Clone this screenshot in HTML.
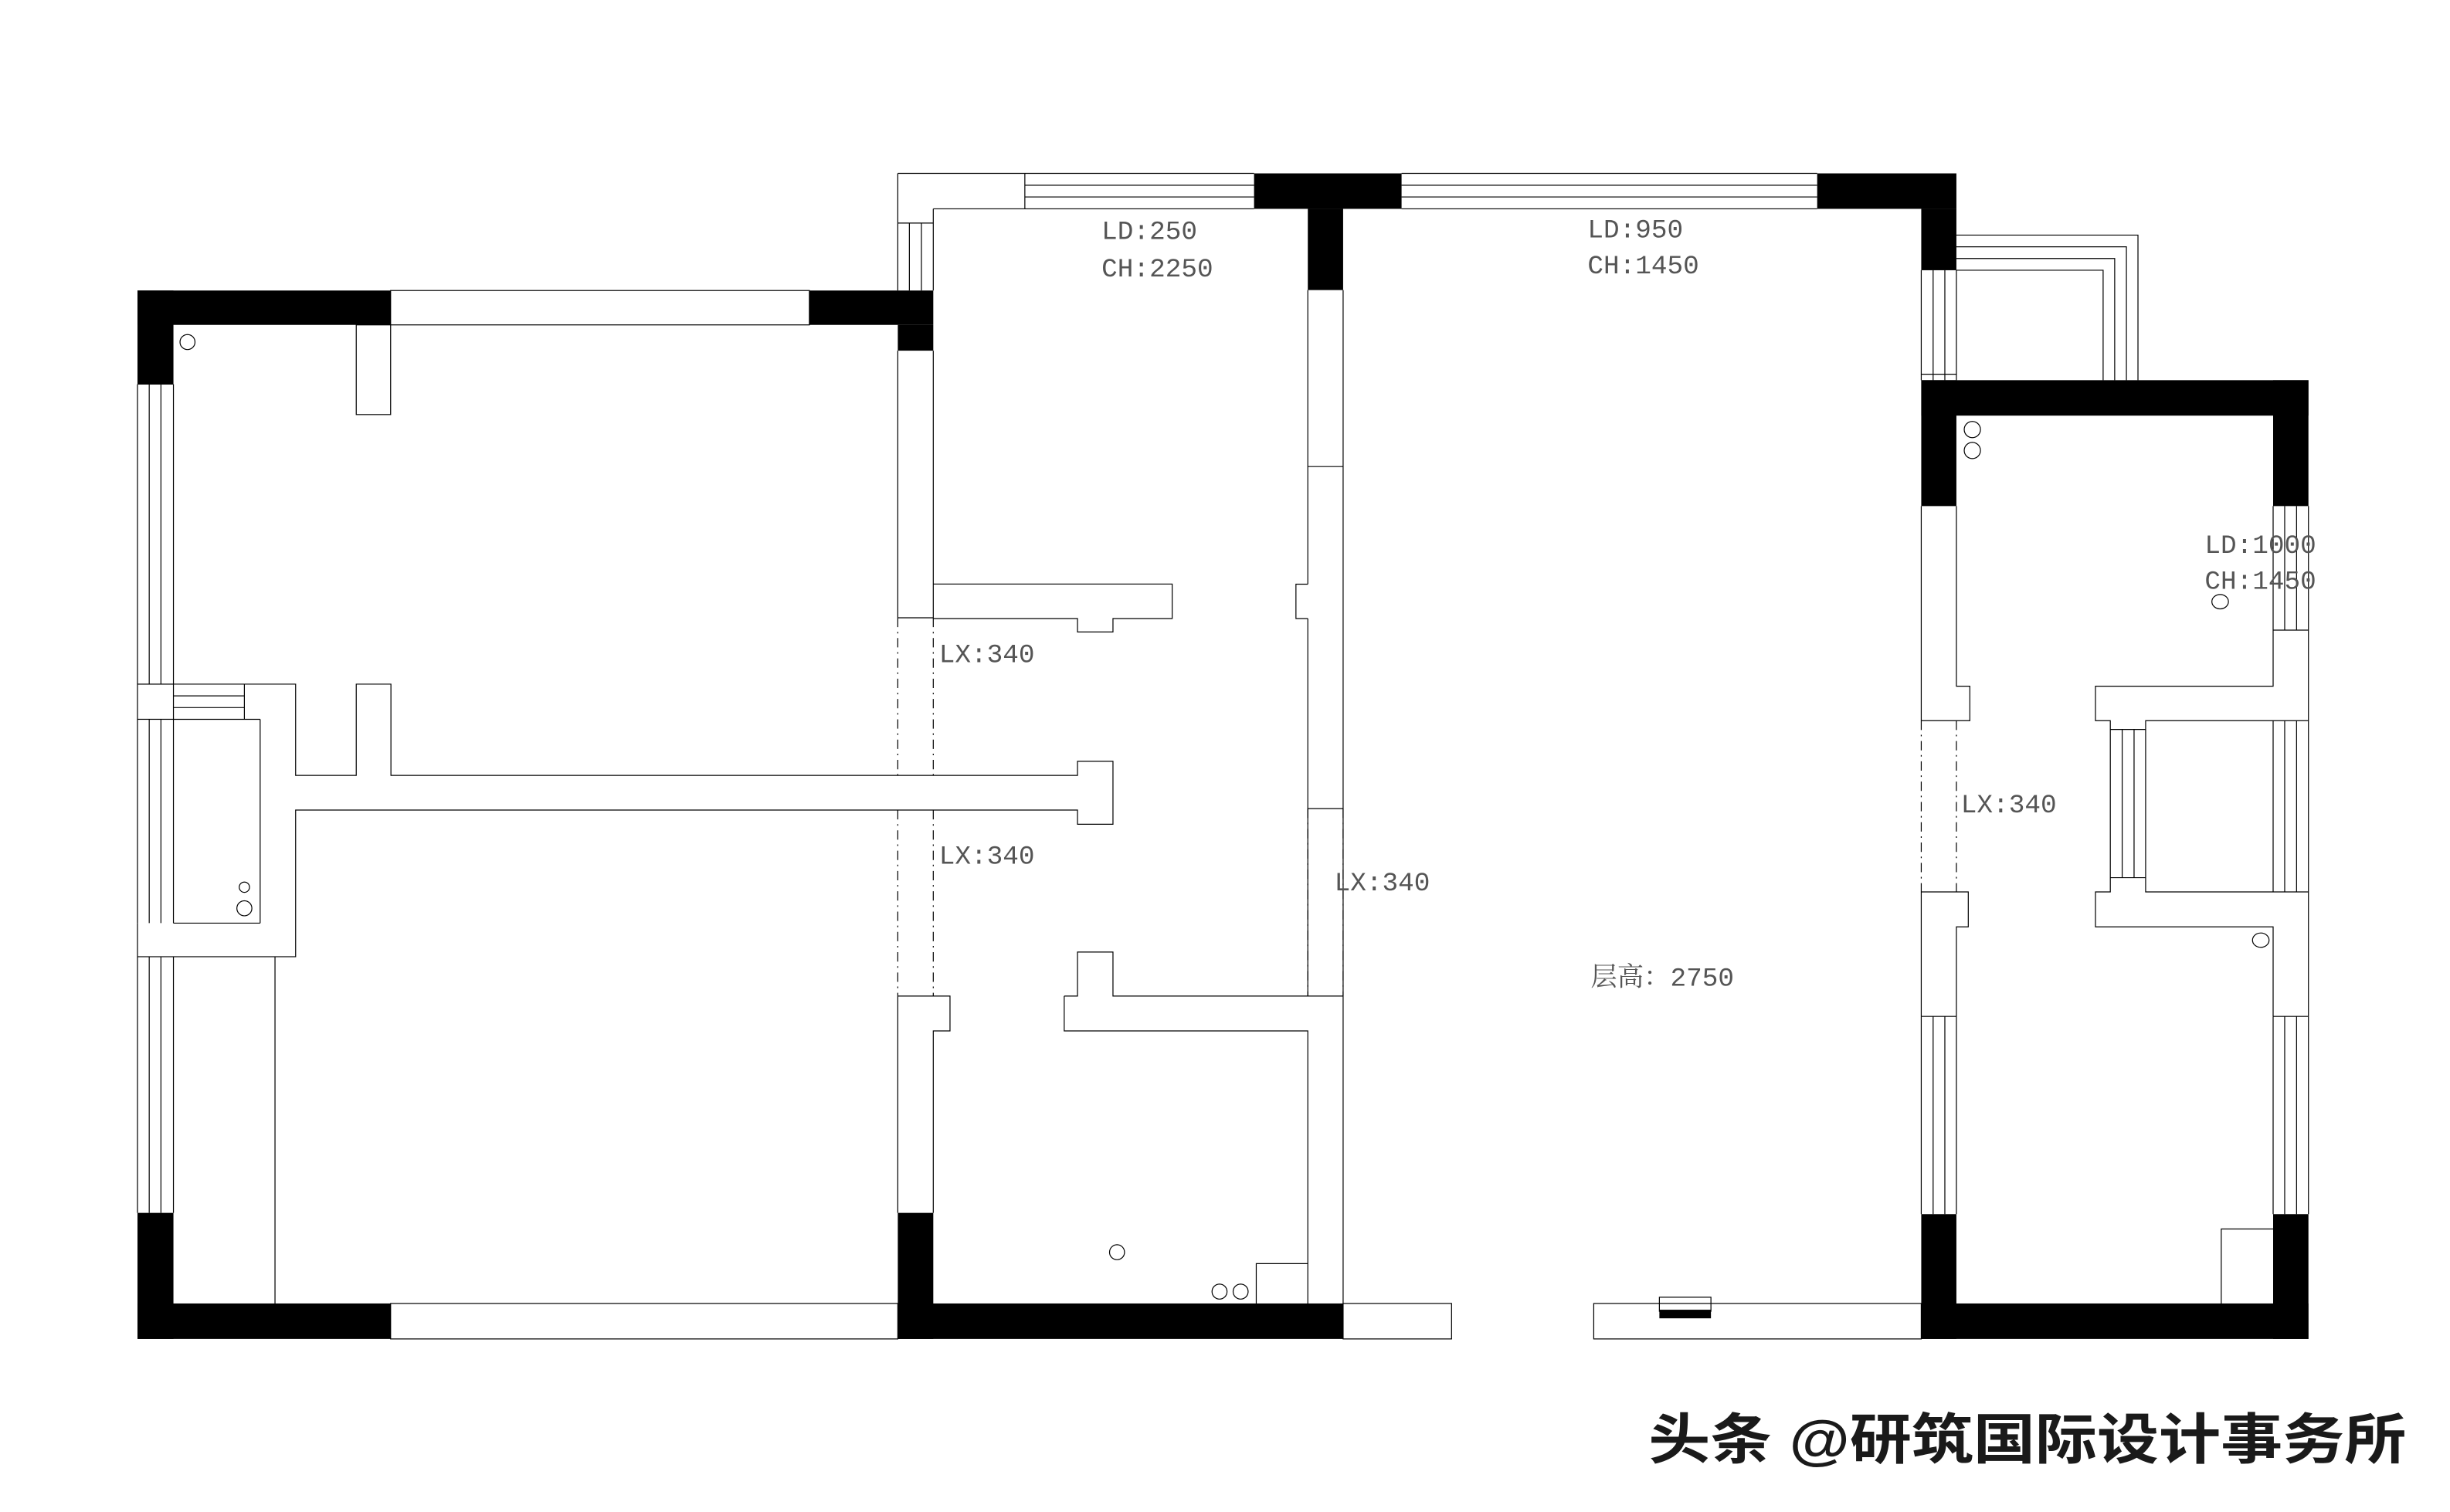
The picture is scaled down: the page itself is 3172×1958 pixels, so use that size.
<!DOCTYPE html>
<html><head><meta charset="utf-8">
<style>
html,body{margin:0;padding:0;background:#fff;}
svg{display:block;}
.t{font-family:"Liberation Mono","Noto Serif CJK SC",monospace;fill:#555;font-size:17px;}
</style></head>
<body>
<svg width="3172" height="1958" viewBox="0 0 1568 968" preserveAspectRatio="none" xmlns="http://www.w3.org/2000/svg">
<rect width="1568" height="968" fill="#fff"/>
<g fill="none" stroke="#000" stroke-width="0.6">
<!-- LEFT BLOCK -->
<rect x="250" y="186" width="268" height="22"/>
<line x1="88" y1="246" x2="88" y2="438"/><line x1="95.5" y1="246" x2="95.5" y2="438"/><line x1="103" y1="246" x2="103" y2="438"/><line x1="111" y1="246" x2="111" y2="438"/>
<rect x="88" y="438" width="23" height="22.5"/>
<line x1="111" y1="438" x2="156.4" y2="438"/><line x1="111" y1="445.5" x2="156.4" y2="445.5"/><line x1="111" y1="453" x2="156.4" y2="453"/><line x1="111" y1="460.5" x2="166.5" y2="460.5"/>
<line x1="156.4" y1="438" x2="156.4" y2="460.5"/>
<line x1="88" y1="460.5" x2="88" y2="591"/><line x1="95.5" y1="460.5" x2="95.5" y2="591"/><line x1="103" y1="460.5" x2="103" y2="591"/><line x1="111" y1="460.5" x2="111" y2="591"/>
<line x1="166.5" y1="460.5" x2="166.5" y2="591"/><line x1="111" y1="591" x2="166.5" y2="591"/>
<circle cx="156.4" cy="568" r="3.3"/><circle cx="156.4" cy="581.5" r="4.8"/>
<line x1="88" y1="612.5" x2="88" y2="776.5"/><line x1="95.5" y1="612.5" x2="95.5" y2="776.5"/><line x1="103" y1="612.5" x2="103" y2="776.5"/><line x1="111" y1="612.5" x2="111" y2="776.5"/>
<line x1="88" y1="591" x2="88" y2="612.5"/>
<line x1="176" y1="612.5" x2="176" y2="834.5"/>
<rect x="250" y="834.5" width="324.6" height="22.7"/>
<rect x="228" y="208" width="22" height="57.4"/>
<circle cx="120" cy="219" r="4.8"/>
<polyline points="156.4,438 189.2,438 189.2,496.4 228,496.4 228,438 250.2,438 250.2,496.4 689.6,496.4 689.6,487.4 712.3,487.4 712.3,527.7 689.6,527.7 689.6,518.6 189.2,518.6 189.2,612.5 88,612.5"/>
<!-- MIDDLE ROOM -->
<polyline points="574.6,111 574.6,186"/>
<line x1="574.6" y1="111" x2="655.9" y2="111"/>
<line x1="597.3" y1="133.7" x2="655.9" y2="133.7"/>
<line x1="655.9" y1="111" x2="655.9" y2="133.7"/>
<line x1="655.9" y1="111" x2="802.6" y2="111"/><line x1="655.9" y1="118.6" x2="802.6" y2="118.6"/><line x1="655.9" y1="126.1" x2="802.6" y2="126.1"/><line x1="655.9" y1="133.7" x2="802.6" y2="133.7"/>
<line x1="582" y1="142.8" x2="582" y2="186"/><line x1="589.7" y1="142.8" x2="589.7" y2="186"/><line x1="597.3" y1="133.7" x2="597.3" y2="186"/>
<line x1="574.6" y1="142.8" x2="597.3" y2="142.8"/>
<line x1="574.6" y1="224.5" x2="574.6" y2="395.5"/><line x1="597.3" y1="224.5" x2="597.3" y2="395.5"/>
<line x1="574.6" y1="395.5" x2="597.3" y2="395.5"/>
<polyline points="597.3,373.9 750.2,373.9 750.2,396 712.3,396 712.3,404.6 689.6,404.6 689.6,396 597.3,396"/>
<g stroke-dasharray="6,3,1,3">
<line x1="574.6" y1="395.5" x2="574.6" y2="496.4"/><line x1="597.3" y1="395.5" x2="597.3" y2="496.4"/>
<line x1="574.6" y1="518.6" x2="574.6" y2="637.7"/><line x1="597.3" y1="518.6" x2="597.3" y2="637.7"/>
<line x1="837" y1="517.7" x2="837" y2="637.7"/><line x1="859.6" y1="517.7" x2="859.6" y2="637.7"/>
<line x1="1229.6" y1="461.4" x2="1229.6" y2="571"/><line x1="1252.1" y1="461.4" x2="1252.1" y2="571"/>
</g>
<polyline points="574.6,637.7 608,637.7 608,660 597.3,660 597.3,776.5"/>
<line x1="574.6" y1="637.7" x2="574.6" y2="776.5"/>
<polyline points="681.1,637.7 689.6,637.7 689.6,609.5 712.3,609.5 712.3,637.7 859.6,637.7"/>
<polyline points="681.1,637.7 681.1,660 837,660 837,834.5"/>
<line x1="859.6" y1="637.7" x2="859.6" y2="834.5"/>
<line x1="837" y1="185.7" x2="837" y2="374"/><line x1="837" y1="396" x2="837" y2="637.7"/>
<line x1="859.6" y1="185.7" x2="859.6" y2="637.7"/>
<line x1="837" y1="298.7" x2="859.6" y2="298.7"/><line x1="837" y1="517.7" x2="859.6" y2="517.7"/>
<polyline points="837,374 829.4,374 829.4,396 837,396"/>
<polyline points="804,834.5 804,809 837,809"/>
<circle cx="714.9" cy="801.7" r="4.8"/><circle cx="780.5" cy="826.9" r="4.8"/><circle cx="794" cy="826.9" r="4.8"/>
<rect x="859.6" y="834.5" width="69.4" height="22.7"/>
<!-- BIG ROOM -->
<line x1="897" y1="111" x2="1163" y2="111"/><line x1="897" y1="118.6" x2="1163" y2="118.6"/><line x1="897" y1="126.1" x2="1163" y2="126.1"/><line x1="897" y1="133.7" x2="1163" y2="133.7"/>
<line x1="1229.6" y1="173" x2="1229.6" y2="243.4"/><line x1="1237.2" y1="173" x2="1237.2" y2="243.4"/><line x1="1244.7" y1="173" x2="1244.7" y2="243.4"/><line x1="1252.1" y1="173" x2="1252.1" y2="243.4"/>
<line x1="1229.6" y1="239.6" x2="1252.1" y2="239.6"/>
<polyline points="1252.1,150.5 1368.3,150.5 1368.3,243.4"/>
<polyline points="1252.1,158 1360.9,158 1360.9,243.4"/>
<polyline points="1252.1,165.5 1353.4,165.5 1353.4,243.4"/>
<polyline points="1252.1,173 1346,173 1346,243.4"/>
<rect x="1020" y="834.5" width="209.6" height="22.7"/>
<rect x="1062" y="830.5" width="33" height="9"/>
<!-- RIGHT ROOM -->
<line x1="1229.6" y1="324" x2="1229.6" y2="461.4"/>
<polyline points="1252.1,324 1252.1,439.3 1260.7,439.3 1260.7,461.4 1229.6,461.4"/>
<polyline points="1229.6,571 1259.7,571 1259.7,593.4 1252.1,593.4 1252.1,650.7"/>
<line x1="1229.6" y1="571" x2="1229.6" y2="650.7"/>
<line x1="1229.6" y1="650.7" x2="1229.6" y2="777.3"/><line x1="1237.2" y1="650.7" x2="1237.2" y2="777.3"/><line x1="1244.7" y1="650.7" x2="1244.7" y2="777.3"/><line x1="1252.1" y1="650.7" x2="1252.1" y2="777.3"/>
<line x1="1229.6" y1="650.7" x2="1252.1" y2="650.7"/>
<line x1="1454.8" y1="324" x2="1454.8" y2="403.4"/><line x1="1462.2" y1="324" x2="1462.2" y2="403.4"/><line x1="1469.8" y1="324" x2="1469.8" y2="403.4"/><line x1="1477.4" y1="324" x2="1477.4" y2="403.4"/>
<line x1="1454.8" y1="403.4" x2="1477.4" y2="403.4"/>
<polyline points="1454.8,403.4 1454.8,439.3 1341.1,439.3 1341.1,461.4 1350.6,461.4 1350.6,571 1341.1,571 1341.1,593.4 1454.8,593.4 1454.8,650.7"/>
<line x1="1477.4" y1="403.4" x2="1477.4" y2="650.7"/>
<polyline points="1477.4,461.4 1373.2,461.4 1373.2,571 1477.4,571"/>
<line x1="1358.2" y1="467" x2="1358.2" y2="561.9"/><line x1="1365.8" y1="467" x2="1365.8" y2="561.9"/>
<line x1="1350.6" y1="467" x2="1373.2" y2="467"/><line x1="1350.6" y1="561.9" x2="1373.2" y2="561.9"/>
<line x1="1462.2" y1="461.4" x2="1462.2" y2="571"/><line x1="1469.8" y1="461.4" x2="1469.8" y2="571"/><line x1="1454.8" y1="461.4" x2="1454.8" y2="571"/>
<line x1="1454.8" y1="650.7" x2="1454.8" y2="777.3"/><line x1="1462.2" y1="650.7" x2="1462.2" y2="777.3"/><line x1="1469.8" y1="650.7" x2="1469.8" y2="777.3"/><line x1="1477.4" y1="650.7" x2="1477.4" y2="777.3"/>
<line x1="1454.8" y1="650.7" x2="1477.4" y2="650.7"/>
<polyline points="1421.6,834.5 1421.6,786.8 1454.8,786.8"/>
<circle cx="1262.3" cy="275" r="5.2"/><circle cx="1262.3" cy="288.4" r="5.2"/>
<ellipse cx="1420.9" cy="385.2" rx="5.3" ry="4.6"/><ellipse cx="1446.9" cy="601.9" rx="5.3" ry="4.6"/>
</g>
<g fill="#000">
<rect x="88" y="186" width="162" height="22"/>
<rect x="518" y="186" width="79.3" height="22"/>
<rect x="574.6" y="208" width="22.7" height="16.5"/>
<rect x="88" y="186" width="23" height="60.2"/>
<rect x="88" y="776.5" width="23" height="80.7"/>
<rect x="88" y="834.5" width="162" height="22.7"/>
<rect x="574.6" y="776.5" width="22.7" height="80.7"/>
<rect x="574.6" y="834.5" width="285" height="22.7"/>
<rect x="802.6" y="111" width="94.4" height="22.7"/>
<rect x="837" y="133.7" width="22.6" height="52"/>
<rect x="1163" y="111" width="89.1" height="22.7"/>
<rect x="1229.6" y="133.7" width="22.5" height="39.3"/>
<rect x="1229.6" y="243.4" width="247.8" height="22.7"/>
<rect x="1229.6" y="243.4" width="22.5" height="80.6"/>
<rect x="1454.8" y="243.4" width="22.6" height="80.6"/>
<rect x="1229.6" y="777.3" width="22.5" height="79.9"/>
<rect x="1454.8" y="777.3" width="22.6" height="79.9"/>
<rect x="1229.6" y="834.5" width="247.8" height="22.7"/>
<rect x="1062" y="838.5" width="33" height="5.5"/>
</g>
<text class="t" x="705" y="153">LD:250</text>
<text class="t" x="705" y="177">CH:2250</text>
<text class="t" x="1016" y="152">LD:950</text>
<text class="t" x="1016" y="175">CH:1450</text>
<text class="t" x="1411" y="354">LD:1000</text>
<text class="t" x="1411" y="377">CH:1450</text>
<text class="t" x="601" y="424">LX:340</text>
<text class="t" x="601" y="553">LX:340</text>
<text class="t" x="854" y="570">LX:340</text>
<text class="t" x="1255" y="520">LX:340</text>
<text class="t" x="1018" y="631">层高：2750</text>
<text x="1055" y="934" textLength="485" lengthAdjust="spacingAndGlyphs" style="font-family:'Liberation Sans','Noto Sans CJK SC',sans-serif;font-size:35px;font-weight:bold;fill:#1a1a1a;">头条 @研筑国际设计事务所</text>
</svg>
</body></html>
